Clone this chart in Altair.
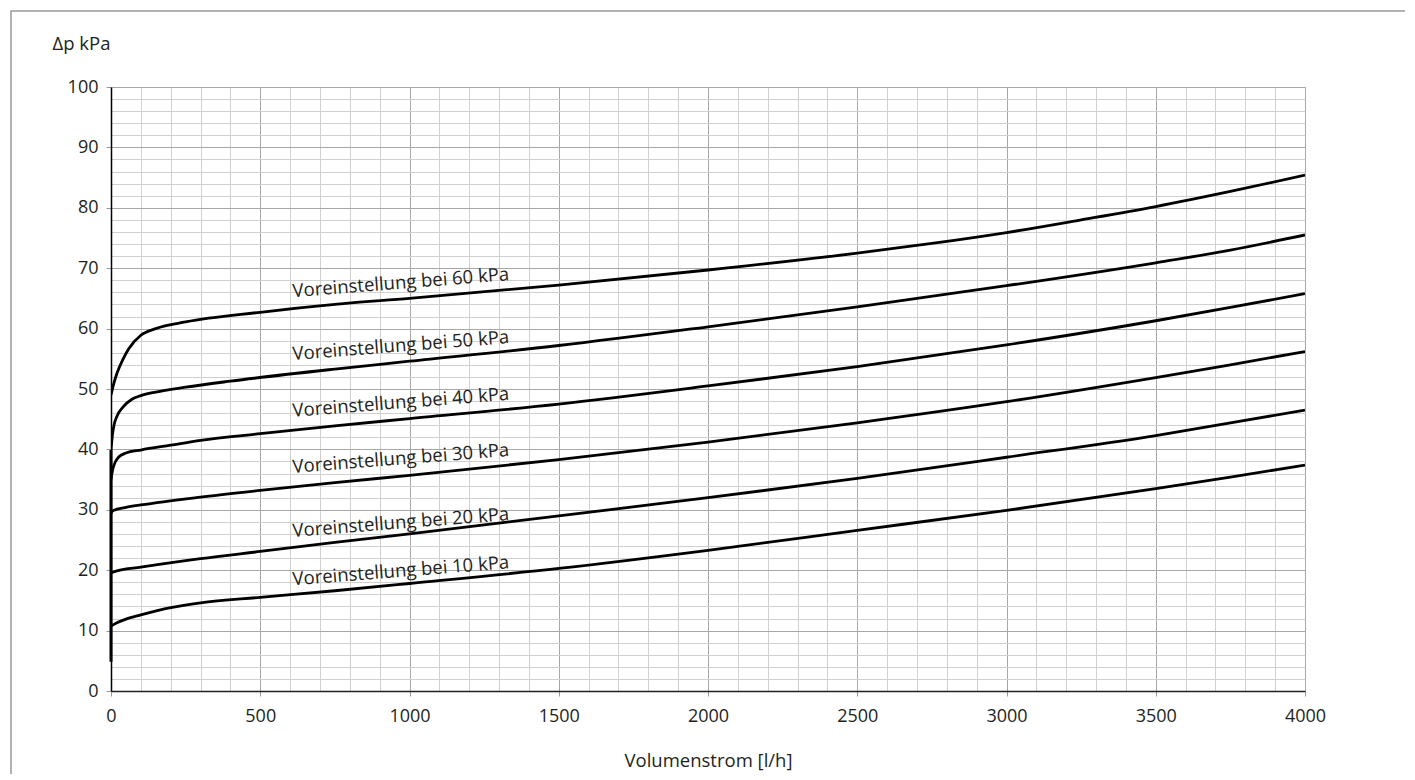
import altair as alt
import pandas as pd

# ---- data ----
x_grid_values = list(range(0, 4001, 100))
y_grid_values = list(range(0, 101, 2))

series_names = [
    "Voreinstellung bei 60 kPa",
    "Voreinstellung bei 50 kPa",
    "Voreinstellung bei 40 kPa",
    "Voreinstellung bei 30 kPa",
    "Voreinstellung bei 20 kPa",
    "Voreinstellung bei 10 kPa",
]

c60_x = [0, 10, 20, 40, 60, 100, 150, 250, 500, 750, 1000, 1500, 2000, 2500, 2750, 3000, 3250, 3500, 3750, 4000]
c60_y = [49.0, 51.0, 52.6, 54.9, 56.7, 58.9, 60.0, 61.1, 62.7, 64.0, 65.0, 67.2, 69.7, 72.5, 74.1, 75.9, 78.0, 80.2, 82.7, 85.4]

c50_x = [0, 5, 10, 20, 40, 70, 100, 150, 250, 400, 750, 1000, 1500, 2000, 2500, 3000, 3500, 3750, 4000]
c50_y = [39.9, 42.5, 44.0, 45.5, 47.0, 48.3, 48.9, 49.5, 50.3, 51.3, 53.3, 54.6, 57.2, 60.3, 63.6, 67.1, 70.9, 73.0, 75.5]

c40_x = [0, 5, 10, 25, 50, 100, 200, 300, 500, 750, 1000, 1500, 2000, 2500, 3000, 3500, 3750, 4000]
c40_y = [35.0, 36.5, 37.4, 38.7, 39.4, 39.9, 40.7, 41.5, 42.6, 43.9, 45.1, 47.5, 50.5, 53.7, 57.3, 61.3, 63.5, 65.8]

c30_x = [0, 5, 20, 50, 100, 300, 500, 750, 1000, 1500, 2000, 2500, 3000, 3500, 3750, 4000]
c30_y = [29.4, 29.8, 30.1, 30.4, 30.8, 32.1, 33.2, 34.5, 35.7, 38.3, 41.2, 44.4, 47.9, 51.9, 54.0, 56.2]

c20_x = [0, 20, 100, 300, 500, 750, 1000, 1500, 2000, 2500, 3000, 3500, 3750, 4000]
c20_y = [19.6, 19.9, 20.5, 21.9, 23.1, 24.6, 26.0, 29.0, 32.0, 35.2, 38.7, 42.3, 44.4, 46.5]

c10_x = [0, 20, 50, 100, 200, 300, 500, 750, 1000, 1500, 2000, 2500, 3000, 3500, 3750, 4000]
c10_y = [10.75, 11.3, 11.9, 12.6, 13.8, 14.6, 15.5, 16.6, 17.8, 20.3, 23.3, 26.6, 29.9, 33.5, 35.4, 37.4]

# common vertical start of the curves at 0 l/h
stem_x = [0]
stem_bottom = [4.85]
stem_top = [39.9]

# curve labels (left end of the text baseline)
label_x = [610, 610, 610, 610, 610, 610]
label_y = [65.2, 54.8, 45.4, 36.1, 25.5, 17.5]

# ---- tables ----
curve_xs = [c60_x, c50_x, c40_x, c30_x, c20_x, c10_x]
curve_ys = [c60_y, c50_y, c40_y, c30_y, c20_y, c10_y]
rows = []
for name, xs, ys in zip(series_names, curve_xs, curve_ys):
    for a, b in zip(xs, ys):
        rows.append({"x": a, "y": b, "series": name})
curves_df = pd.DataFrame(rows)
labels_df = pd.DataFrame({"x": label_x, "y": label_y, "text": series_names})
stem_df = pd.DataFrame({"x": stem_x, "y": stem_bottom, "y2": stem_top})
frame_df = pd.DataFrame({"a": [0]})

FONT = "Open Sans"
TXT = "#231f20"

major_x = "datum.value % 500 === 0"
major_y = "datum.value % 10 === 0"

x_axis = alt.Axis(
    values=x_grid_values, format="d",
    labelExpr=f"{major_x} ? datum.label : ''",
    labelOverlap=False, labelFlush=False,
    grid=True,
    gridColor={"condition": {"test": major_x, "value": "#a8a8a8"}, "value": "#d0d0d0"},
    gridWidth=1,
    tickOpacity={"condition": {"test": major_x, "value": 1}, "value": 0},
    tickSize=5, tickColor="#999999", labelPadding=11,
    labelFont=FONT, labelFontSize=18, labelColor=TXT,
    domainColor="#222222", domainWidth=1.5,
    title="Volumenstrom [l/h]", titleFont=FONT, titleFontSize=18.5,
    titleFontWeight="normal", titleColor=TXT,
    titleY=75, titleBaseline="alphabetic",
)

y_axis = alt.Axis(
    values=y_grid_values, format="d",
    labelExpr=f"{major_y} ? datum.label : ''",
    labelOverlap=False, labelFlush=False,
    grid=True,
    gridColor={"condition": {"test": major_y, "value": "#a8a8a8"}, "value": "#d0d0d0"},
    gridWidth=1,
    tickOpacity={"condition": {"test": major_y, "value": 1}, "value": 0},
    tickSize=5, tickColor="#999999", labelPadding=8,
    labelFont=FONT, labelFontSize=18, labelColor=TXT,
    domainColor="#000000", domainWidth=1.5,
    title="Δp kPa", titleFont=FONT, titleFontSize=18.5,
    titleFontWeight="normal", titleColor=TXT,
    titleAngle=0, titleAlign="left", titleBaseline="alphabetic",
    titleX=-59, titleY=-38,
)

x_scale = alt.Scale(domain=[0, 4000], nice=False, zero=False)
y_scale = alt.Scale(domain=[0, 100], nice=False, zero=False)

X = alt.X("x:Q", scale=x_scale, axis=x_axis, title="Volumenstrom [l/h]")
Y = alt.Y("y:Q", scale=y_scale, axis=y_axis, title="Δp kPa")

lines = alt.Chart(curves_df).mark_line(
    color="black", strokeWidth=2.8, interpolate="monotone", clip=True
).encode(x=X, y=Y, detail="series:N")

stem = alt.Chart(stem_df).mark_rule(color="black", strokeWidth=3).encode(
    x=X, y=Y, y2="y2:Q"
)

labels = alt.Chart(labels_df).mark_text(
    align="left", baseline="alphabetic", angle=355.5,
    font=FONT, fontSize=18.5, color=TXT
).encode(x=X, y=Y, text="text:N")

frame = alt.Chart(frame_df).mark_rect(
    fillOpacity=0, stroke="#9a9a9a", strokeWidth=1.5
).encode(
    x=alt.value(-100), x2=alt.value(1400),
    y=alt.value(-76), y2=alt.value(820)
)

chart = alt.layer(frame, lines, stem, labels).properties(
    width=1194, height=604,
    autosize=alt.AutoSizeParams(type="none"),
    padding={"left": 103, "top": 79, "right": 100, "bottom": 83},
).configure_view(
    stroke="#000000", strokeWidth=1.5
).configure(background="white")

chart.save("out.html", embed_options={"renderer": "svg", "actions": False})
